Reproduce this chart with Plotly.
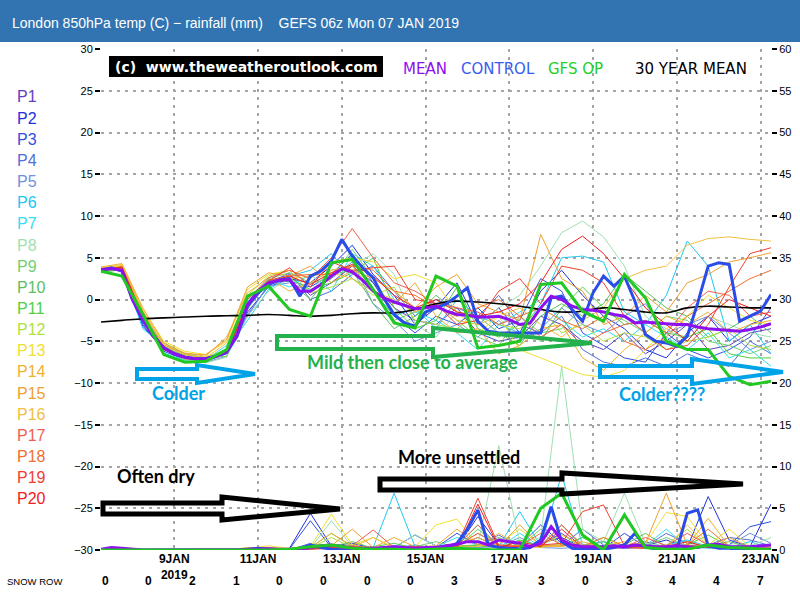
import plotly.graph_objects as go
import pandas as pd

# ---------------- time axes ----------------
t12 = pd.date_range("2019-01-07 06:00", "2019-01-23 06:00", freq="12h")
t6 = pd.date_range("2019-01-07 06:00", "2019-01-23 06:00", freq="6h")

tick_dates = ["2019-01-09", "2019-01-11", "2019-01-13", "2019-01-15",
              "2019-01-17", "2019-01-19", "2019-01-21", "2019-01-23"]
tick_text = ["9JAN<br>2019", "11JAN", "13JAN", "15JAN", "17JAN", "19JAN", "21JAN", "23JAN"]
temp_ticks = [-30, -25, -20, -15, -10, -5, 0, 5, 10, 15, 20, 25, 30]
rain_ticks = [0, 5, 10, 15, 20, 25, 30, 35, 40, 45, 50, 55, 60]

member_names = ["P%d" % i for i in range(1, 21)]
member_colors = ["#6040c0", "#2030e0", "#3050e0", "#5070d8", "#7090e0", "#20c8f0", "#30e0f0",
                 "#a0e0b0", "#70d070", "#60c060", "#50d040", "#b0e040", "#f0e030", "#f0b030",
                 "#f0a030", "#f0c040", "#f06050", "#f07030", "#f04030", "#f02020"]

snow_row = [0, 0, 2, 1, 0, 0, 0, 0, 3, 5, 3, 0, 3, 4, 4, 7]

# ---------------- 850 hPa temperature, members (12-hourly) ----------------
t_p1 = [3.5,3.8,-2.0,-5.5,-6.8,-7.2,-6.0,-0.5,2.2,3.0,0.5,2.0,4.0,2.0,-1.0,-2.5,-3.0,-1.0,-4.0,-5.0,-4.5,-2.0,-3.0,-5.0,-6.0,-4.0,-6.5,-5.0,-3.0,-6.0,-5.5,-4.0,-3.5]
t_p2 = [3.6,3.7,-3.2,-6.0,-7.0,-7.4,-6.5,-1.5,1.5,2.5,2.0,4.0,6.5,3.0,0.5,-3.0,-1.0,2.0,-3.0,-1.0,-4.0,1.0,3.5,0.5,-2.0,-3.5,-6.0,-7.0,-4.0,-2.0,-5.0,-3.0,-2.0]
t_p3 = [3.4,3.6,-3.0,-6.2,-7.2,-7.3,-6.2,-1.0,2.0,2.2,1.5,3.0,5.5,2.0,-2.0,-4.0,-2.0,-3.0,-1.0,-3.5,-2.5,2.5,1.0,-4.0,-5.5,-7.0,-7.5,-4.0,-6.0,-7.0,-6.0,-4.5,-1.0]
t_p4 = [3.3,3.9,-1.5,-5.8,-6.6,-7.0,-6.4,-2.0,1.8,3.2,0.0,1.0,3.0,4.0,1.0,-2.0,0.0,-1.0,-2.0,0.5,-3.0,-4.0,-2.0,-6.0,-7.5,-8.0,-7.0,-8.0,-6.5,-7.5,-8.0,-5.0,-6.5]
t_p5 = [3.5,3.5,-2.8,-6.0,-7.0,-7.5,-6.8,-1.8,1.6,2.0,1.0,2.5,4.5,-0.5,-2.5,-5.0,-4.0,-3.0,-4.5,-2.5,-5.0,-3.5,-1.0,-3.0,-4.0,-2.0,-0.5,-4.0,-3.0,-2.0,-4.0,-6.0,-5.0]
t_p6 = [3.8,3.4,-3.5,-5.5,-6.5,-7.0,-6.0,-2.5,1.2,2.8,3.5,5.5,2.5,1.0,-2.0,-1.0,-3.5,0.0,-2.0,-3.0,-4.0,-0.5,5.0,5.2,4.5,-1.5,-3.0,0.5,7.0,4.0,-5.0,-3.0,-6.5]
t_p7 = [3.7,3.9,-2.6,-6.4,-7.3,-7.2,-5.5,-0.2,2.4,1.5,3.0,1.0,5.5,4.0,0.0,-1.5,-2.5,-4.0,-6.0,-3.0,-1.5,0.0,-2.5,-4.5,-3.5,-5.0,-3.0,-4.5,-6.0,-4.0,-7.0,-6.0,-8.0]
t_p8 = [3.6,3.8,-2.5,-5.8,-7.2,-7.6,-6.9,-2.0,1.0,2.5,1.0,3.5,4.0,5.5,3.0,-3.0,-4.5,-1.5,-3.0,-1.0,0.5,4.0,8.0,9.4,7.5,4.0,-2.0,-3.5,-5.0,-2.0,-3.0,-4.0,-4.5]
t_p9 = [3.2,3.6,-2.3,-5.2,-6.5,-7.0,-6.8,-1.2,2.5,3.2,2.0,2.5,6.0,2.5,-2.5,-1.5,-0.5,-2.5,-4.5,-5.5,-2.0,-4.0,-3.5,-1.0,-1.5,-2.5,-4.0,-2.0,-2.5,-5.0,-5.5,-6.5,-5.5]
t_p10 = [3.4,3.7,-1.8,-5.6,-7.0,-7.1,-6.2,0.0,2.4,2.2,0.0,3.0,3.5,-0.5,-3.5,-2.0,0.5,-1.5,-2.0,-4.0,-5.5,-2.0,-0.5,-2.0,-0.5,3.0,1.0,-1.0,-2.0,-4.5,-3.5,-2.0,-4.0]
t_p11 = [3.6,3.5,-2.4,-6.0,-6.8,-7.3,-6.4,-0.8,2.2,2.6,1.2,2.0,3.2,5.0,-1.0,-3.5,-2.5,1.5,-3.5,-4.5,-3.0,-5.0,-1.0,1.5,-1.0,-3.0,-2.5,-4.0,-4.5,-3.5,-6.5,-7.0,-7.0]
t_p12 = [3.5,3.8,-2.2,-5.6,-6.7,-6.9,-6.0,0.5,2.8,3.5,0.8,1.5,2.5,0.5,1.5,-2.5,-3.0,-3.5,-1.5,-3.0,-3.5,-1.0,-4.0,-3.0,-5.0,-4.0,-4.5,-6.0,-5.0,-4.5,-3.5,-5.5,-6.0]
t_p13 = [3.8,4.2,-1.2,-5.0,-6.2,-6.6,-5.0,1.2,3.0,3.5,2.5,4.5,5.0,4.5,2.5,3.0,2.0,-1.5,-4.0,-2.0,-6.0,-7.0,-8.0,-9.0,-9.3,-8.5,-6.0,-3.5,-2.0,0.5,-1.0,-2.5,-3.0]
t_p14 = [3.9,4.3,-1.0,-5.2,-6.4,-6.8,-4.5,0.8,2.6,1.0,2.0,3.5,4.0,1.0,-0.5,2.0,-2.0,-4.0,-3.5,-6.5,-5.5,-3.5,-3.0,-7.0,-8.5,-6.0,-4.0,-2.0,-3.0,-1.5,-4.0,-3.0,-2.5]
t_p15 = [3.7,4.0,-1.4,-5.4,-6.5,-6.6,-4.8,1.5,3.2,2.8,4.0,2.0,3.5,2.5,1.0,-1.0,1.5,3.0,-0.5,-1.5,-2.5,7.8,2.5,1.0,-3.0,-2.0,0.5,-1.5,2.0,3.0,4.5,5.0,5.6]
t_p16 = [3.6,4.1,-1.6,-5.5,-6.6,-7.0,-5.2,0.2,2.0,2.5,2.8,3.2,2.5,1.0,0.0,-1.5,-0.5,-2.5,-3.0,-2.0,-1.0,-3.0,-4.5,-2.5,-1.0,2.5,3.5,4.0,6.5,7.3,7.5,7.2,7.0]
t_p17 = [3.5,3.9,-2.0,-5.8,-7.0,-7.2,-6.0,0.0,2.6,3.5,2.5,5.0,8.5,5.0,2.0,1.0,-0.5,-1.0,-1.5,-3.0,-2.0,-4.5,-3.0,-5.5,-4.0,-3.0,-2.5,-4.0,-1.0,1.0,0.5,-2.0,-1.5]
t_p18 = [3.6,3.7,-2.3,-6.0,-7.1,-7.2,-6.1,-0.4,2.3,2.8,3.0,3.0,4.0,3.5,1.0,0.5,-1.0,-2.0,-1.0,0.0,-2.0,-1.0,-2.5,-3.5,-2.0,-5.0,-6.0,-4.5,-2.0,-0.5,1.0,2.5,3.5]
t_p19 = [3.5,3.8,-2.5,-6.0,-7.0,-7.1,-6.2,-0.8,2.2,3.8,1.5,4.5,3.5,3.8,4.0,0.0,-0.5,-3.0,-2.5,1.0,2.5,-0.5,4.0,3.5,2.0,-2.0,-4.0,-6.0,-5.5,-3.0,1.5,5.5,6.2]
t_p20 = [3.4,3.9,-2.1,-5.9,-7.0,-7.3,-6.3,-0.6,2.1,2.8,1.8,3.2,4.2,2.8,0.5,-1.0,0.0,-1.5,-2.0,-1.5,-0.5,2.0,6.0,7.6,5.5,2.5,-1.0,-3.0,-5.0,-2.0,0.0,-1.0,-2.0]

# ---------------- rainfall (mm), members (12-hourly) ----------------
r_p1 = [0,0.2,0,0,0,0,0,0,0.1,0,0.5,0.3,0,0.2,0,0.3,0,0.5,1.5,0.4,0.2,0.6,2.0,0.3,0.2,0.4,1.0,0.3,0.2,0.5,0.3,0.2,0.5]
r_p2 = [0,0.1,0,0,0,0,0,0,0,0.2,4.4,0.5,0.8,0.2,0.3,1.8,0.5,0.3,4.0,0.6,0.2,0.8,1.5,0.3,0.4,0.2,0.5,1.2,0.3,6.4,1.2,0.4,5.5]
r_p3 = [0,0,0,0,0,0,0,0,0,0.1,3.5,0.3,0.2,0,0.5,0.4,0.3,2.0,0.6,0.4,0.5,3.0,0.8,0.3,0.2,2.0,0.4,0.3,0.2,0.4,0.6,2.8,3.4]
r_p4 = [0,0,0,0,0,0,0,0,0,0,0.8,0.2,0.3,0.1,0.2,0.6,0.2,0.3,0.5,1.8,0.4,0.6,0.5,2.5,0.6,0.3,0.4,2.0,0.8,0.6,1.5,1.2,0.5]
r_p5 = [0,0,0,0,0,0,0,0,0,0,0.2,0.3,0.6,0.1,0.2,0.1,0.5,0.2,0.3,0.4,1.5,0.3,0.2,0.4,1.0,0.2,0.3,0.5,0.4,0.3,0.6,2.0,0.8]
r_p6 = [0,0,0,0,0,0,0,0,0,0,0.3,0.2,0.1,0.3,6.8,0.4,0.3,0.5,3.0,0.4,4.6,0.5,9.0,0.6,1.0,0.3,0.4,0.6,1.2,0.4,0.3,1.0,0.2]
r_p7 = [0,0,0,0,0,0,0,0,0,0,0.2,0.4,0.5,0.2,0.3,0.2,0.4,1.5,0.6,0.3,2.0,0.4,0.5,1.5,0.3,0.4,0.5,2.5,0.4,0.2,0.3,0.5,0.2]
r_p8 = [0,0,0,0,0,0,0,0,0,0.1,0.2,3.5,0.4,0.2,0.3,1.8,0.5,0.4,0.6,12.5,0.8,1.5,22.0,2.5,1.0,6.8,0.8,0.5,1.0,0.4,0.6,0.5,1.5]
r_p9 = [0,0,0,0,0,0,0,0,0,0,0.3,2.0,0.4,0.2,0.3,0.4,1.0,0.3,2.5,0.5,0.4,2.5,0.6,0.4,1.0,0.3,0.5,1.5,0.4,0.3,0.2,0.4,0.3]
r_p10 = [0,0,0,0,0,0,0,0,0,0,0.2,0.4,1.0,0.2,0.3,0.2,0.4,0.5,0.6,1.5,0.4,0.5,3.0,0.4,0.5,0.6,2.0,0.4,0.3,0.5,1.0,0.3,0.2]
r_p11 = [0,0,0,0,0,0,0,0,0,0,0.1,0.3,0.2,0.4,0.8,0.2,0.3,0.4,0.5,0.3,1.2,0.4,0.5,1.5,0.3,0.4,0.3,0.5,0.6,1.8,0.4,0.3,0.2]
r_p12 = [0,0,0,0,0,0,0,0,0,0,0.2,1.5,0.3,0.2,0.4,0.3,0.2,0.5,2.0,0.6,0.4,0.3,0.8,0.5,1.5,0.4,0.3,0.6,2.5,0.4,0.3,0.5,0.4]
r_p13 = [0,0.3,0,0,0,0,0,0.2,0.5,0.2,0.4,4.3,0.6,1.5,0.3,0.4,3.0,3.7,0.5,0.8,2.5,0.6,1.8,0.5,0.4,0.6,0.8,4.5,4.0,0.6,2.5,0.4,0.3]
r_p14 = [0,0.2,0,0,0,0,0,0.3,0.2,0.1,0.3,2.0,0.5,0.3,1.5,0.4,0.3,0.5,1.5,0.4,0.6,0.5,0.4,1.0,0.3,0.5,0.4,0.6,0.5,3.8,0.4,0.3,0.2]
r_p15 = [0,0.1,0,0,0,0,0,0.2,0.3,0.1,0.4,0.5,2.5,0.3,0.2,0.4,0.5,2.5,0.6,0.4,3.0,0.5,0.6,0.4,0.3,0.5,0.8,6.8,0.6,0.4,1.5,0.3,0.2]
r_p16 = [0,0,0,0,0,0,0,0.1,0.3,0.1,0.2,0.4,0.3,1.5,0.2,0.4,0.3,0.5,0.4,2.0,0.5,0.3,0.6,0.4,0.5,1.0,0.4,0.3,3.0,0.5,0.4,0.3,0.2]
r_p17 = [0,0,0,0,0,0,0,0,0.2,0.1,0.3,0.4,0.5,2.4,0.3,0.2,0.4,0.5,2.0,0.6,0.4,0.5,3.0,0.6,0.4,0.3,1.5,0.5,2.0,0.6,0.4,0.3,0.2]
r_p18 = [0,0,0,0,0,0,0,0,0.1,0,0.2,0.5,0.4,0.3,0.2,0.4,0.3,0.5,3.0,0.4,0.5,2.0,0.6,0.4,1.5,0.5,0.3,0.4,0.6,2.5,0.4,0.3,0.2]
r_p19 = [0,0,0,0,0,0,0,0,0,0,0.2,0.3,0.4,0.2,0.3,0.4,0.2,0.5,6.2,0.5,0.4,0.6,0.8,4.6,5.4,0.5,0.4,0.3,0.5,0.4,0.3,0.2,0.1]
r_p20 = [0,0,0,0,0,0,0,0,0,0,0.1,0.2,0.3,0.2,0.1,0.2,0.3,0.2,5.5,0.3,1.0,0.4,2.5,0.3,0.2,0.3,0.2,0.4,1.0,0.3,0.2,0.1,0]

# ---------------- ensemble mean & control (6-hourly) ----------------
mean_temp = [3.6,3.7,3.5,0.0,-2.4,-4.4,-5.8,-6.5,-6.9,-7.1,
             -7.1,-6.8,-6.3,-4.2,-0.6,1.0,2.0,2.3,2.4,1.0,
             1.0,1.8,2.8,3.7,3.3,2.3,1.0,0.2,-0.3,-0.7,
             -1.1,-1.0,-0.8,-1.4,-1.8,-1.9,-2.1,-2.1,-2.0,-2.4,
             -3.0,-2.8,-1.0,0.4,0.0,-0.8,-1.2,-1.3,-1.5,-1.8,
             -2.0,-2.8,-2.7,-2.8,-2.9,-3.0,-3.0,-3.3,-3.5,-3.6,
             -3.7,-3.8,-3.6,-3.3,-2.9]
control_temp = [3.5,3.8,3.4,0.0,-2.5,-4.3,-5.8,-6.5,-6.9,-7.1,
                -7.1,-6.8,-6.3,-4.4,-0.8,0.8,1.8,2.3,2.5,0.4,
                2.8,3.4,4.6,7.2,5.2,3.8,2.6,0.2,-1.8,-2.8,
                -3.2,-1.5,-1.0,-0.5,0.4,1.4,-2.6,-3.8,-4.0,-4.0,
                -4.0,-4.0,-4.0,0.2,0.4,-1.2,-2.6,0.8,2.8,1.6,
                2.8,-0.2,-4.2,-5.0,-5.2,-5.6,-4.4,-0.4,4.0,4.4,
                4.2,-2.6,-2.0,-1.4,0.6]
mean_rain = [0.1,0.3,0.2,0.1,0.0,0.0,0.0,0.0,0.0,0.0,
             0.0,0.0,0.0,0.0,0.05,0.1,0.15,0.1,0.1,0.1,
             0.3,0.5,0.6,0.4,0.2,0.2,0.2,0.3,0.4,0.3,
             0.2,0.3,0.3,0.5,0.7,1.0,1.0,0.6,1.2,1.0,
             0.8,0.4,0.8,2.8,1.2,0.6,0.4,0.4,0.4,0.5,
             0.4,0.6,0.5,0.4,0.4,0.5,0.4,0.3,0.6,0.7,
             0.4,0.4,0.4,0.5,0.6]
control_rain = [0.0,0.2,0.1,0.0,0.0,0.0,0.0,0.0,0.0,0.0,
                0.0,0.0,0.0,0.0,0.1,0.2,0.1,0.0,0.0,0.2,
                0.6,0.3,0.1,0.0,0.0,0.0,0.1,0.2,0.1,0.0,
                0.0,0.1,0.2,0.3,0.8,2.5,4.8,0.6,0.3,0.2,
                0.1,0.3,1.2,5.2,1.0,0.2,0.1,0.1,0.1,0.3,
                0.6,2.0,0.4,0.1,0.0,0.0,4.4,4.8,0.5,0.2,
                0.2,0.1,0.1,0.1,0.1]

# ---------------- GFS operational & 30-year mean (12-hourly) ----------------
gfs_temp = [3.4,2.8,-1.8,-6.6,-7.5,-7.4,-6.0,0.4,1.6,-1.2,
            -2.0,4.4,4.8,1.2,-2.8,-3.4,2.8,1.6,-5.8,-5.5,
            -5.0,1.8,2.0,-1.4,-2.6,3.0,0.2,-5.0,-6.0,-6.0,
            -9.2,-10.2,-9.8]
gfs_rain = [0,0,0,0,0,0,0,0,0,0.1,
            0.4,0.6,0.2,0.1,0.1,0.0,0.1,0.2,0.1,0.0,
            0.0,5.0,6.8,1.8,0.0,4.2,0.3,0.1,0.1,0.6,
            0.3,0.2,0.0]
clim_temp = [-2.7,-2.5,-2.3,-2.2,-2.1,-2.0,-1.95,-1.9,-1.8,-1.9,
             -2.0,-1.9,-1.7,-1.6,-1.6,-1.2,-0.5,-0.2,-0.3,-0.5,
             -0.8,-1.2,-1.5,-1.4,-1.0,-1.2,-1.5,-1.6,-1.0,-0.8,
             -0.9,-1.0,-1.0]

member_temps = [t_p1, t_p2, t_p3, t_p4, t_p5, t_p6, t_p7, t_p8, t_p9, t_p10,
                t_p11, t_p12, t_p13, t_p14, t_p15, t_p16, t_p17, t_p18, t_p19, t_p20]
member_rains = [r_p1, r_p2, r_p3, r_p4, r_p5, r_p6, r_p7, r_p8, r_p9, r_p10,
                r_p11, r_p12, r_p13, r_p14, r_p15, r_p16, r_p17, r_p18, r_p19, r_p20]

# ---------------- colours ----------------
C_MEAN = "#8c10f0"
C_CTRL = "#2a4ce8"
C_OP = "#22c822"
C_PAINT_BLUE = "#00a2e8"
C_PAINT_GREEN = "#22b14c"

fig = go.Figure()

for name, col, tv, rv in zip(member_names, member_colors, member_temps, member_rains):
    fig.add_trace(go.Scatter(x=t12, y=rv, mode="lines", yaxis="y2",
                             line=dict(color=col, width=1), name=name, showlegend=False))
    fig.add_trace(go.Scatter(x=t12, y=tv, mode="lines",
                             line=dict(color=col, width=1), name=name, showlegend=False))

fig.add_trace(go.Scatter(x=t12, y=clim_temp, mode="lines", line=dict(color="black", width=1.6),
                         line_shape="spline", showlegend=False))
fig.add_trace(go.Scatter(x=t6, y=control_rain, mode="lines", yaxis="y2",
                         line=dict(color=C_CTRL, width=3), showlegend=False))
fig.add_trace(go.Scatter(x=t6, y=control_temp, mode="lines",
                         line=dict(color=C_CTRL, width=3), showlegend=False))
fig.add_trace(go.Scatter(x=t6, y=mean_rain, mode="lines", yaxis="y2",
                         line=dict(color=C_MEAN, width=3), showlegend=False))
fig.add_trace(go.Scatter(x=t6, y=mean_temp, mode="lines",
                         line=dict(color=C_MEAN, width=3), showlegend=False))
fig.add_trace(go.Scatter(x=t12, y=gfs_rain, mode="lines", yaxis="y2",
                         line=dict(color=C_OP, width=3), showlegend=False))
fig.add_trace(go.Scatter(x=t12, y=gfs_temp, mode="lines",
                         line=dict(color=C_OP, width=3), showlegend=False))

# ---------------- layout geometry (pixels -> paper) ----------------
L, R, T, B = 101, 29, 49, 50
PW, PH = 800 - L - R, 600 - T - B


def PX(x):
    return (x - L) / PW


def PY(y):
    return (600 - B - y) / PH


def path(pts):
    return "M " + " L ".join("%.5f,%.5f" % (PX(a), PY(b)) for a, b in pts) + " Z"


grid_col = "#a5a5a5"
tick_font = dict(family="Liberation Sans", size=11, color="black")

fig.update_layout(
    width=800, height=600,
    margin=dict(l=L, r=R, t=T, b=B, autoexpand=False),
    paper_bgcolor="white", plot_bgcolor="white",
    showlegend=False,
    xaxis=dict(type="date", range=["2019-01-07 06:00", "2019-01-23 06:00"],
               tickvals=tick_dates, ticktext=tick_text, automargin=False,
               showgrid=True, gridcolor=grid_col, griddash="3px,5px", gridwidth=1.5,
               ticks="",
               tickfont=dict(family="Liberation Sans", size=12, color="black", weight="bold"),
               showline=False, zeroline=False),
    yaxis=dict(range=[-30, 30], tickvals=temp_ticks, automargin=False,
               showgrid=True, gridcolor=grid_col, griddash="3px,5px", gridwidth=1.5,
               ticks="outside", ticklen=5, tickwidth=1.5, tickcolor="black",
               tickfont=tick_font, showline=False, zeroline=False),
    yaxis2=dict(range=[0, 60], tickvals=rain_ticks, overlaying="y", side="right", automargin=False,
                showgrid=False, ticks="outside", ticklen=5, tickwidth=1.5, tickcolor="black",
                tickfont=tick_font, showline=False, zeroline=False),
)

shapes = []
# title band
shapes.append(dict(type="rect", xref="paper", yref="paper", x0=PX(0), x1=PX(800), y0=PY(42), y1=PY(0),
                   fillcolor="#3174b1", line=dict(width=0), layer="above"))
# copyright box
shapes.append(dict(type="rect", xref="paper", yref="paper", x0=PX(109), x1=PX(383), y0=PY(77), y1=PY(56),
                   fillcolor="black", line=dict(width=0), layer="above"))
# hand-drawn hollow arrows
arrows = [
    ([(137, 369), (197, 369), (197, 365), (255, 374), (197, 383), (197, 379), (137, 379)], C_PAINT_BLUE, 4),
    ([(277, 336), (433, 336), (433, 328), (592, 343), (433, 357), (433, 349), (277, 349)], C_PAINT_GREEN, 4),
    ([(600, 366), (692, 366), (692, 359), (783, 372), (692, 384), (692, 377), (600, 377)], C_PAINT_BLUE, 4),
    ([(103, 503), (222, 503), (222, 497), (340, 509), (222, 520), (222, 514), (103, 514)], "black", 5),
    ([(380, 479), (562, 479), (562, 473), (743, 484), (562, 494), (562, 490), (380, 490)], "black", 5),
]
for pts, col, w in arrows:
    shapes.append(dict(type="path", xref="paper", yref="paper", path=path(pts),
                       line=dict(color=col, width=w), fillcolor="rgba(0,0,0,0)", layer="above"))
fig.update_layout(shapes=shapes)

ann = []
# title
ann.append(dict(text="London 850hPa temp (C) \u2212 rainfall (mm)\u00a0\u00a0\u00a0 GEFS 06z Mon 07 JAN 2019",
                x=PX(10), y=PY(23), xref="paper", yref="paper", xanchor="left", yanchor="middle",
                showarrow=False, font=dict(family="Liberation Sans", size=14, color="white")))
# copyright
ann.append(dict(text="<b>(c)\u00a0 www.theweatheroutlook.com</b>", x=PX(246), y=PY(67), xref="paper", yref="paper",
                xanchor="center", yanchor="middle", showarrow=False,
                font=dict(family="DejaVu Sans", size=14, color="white")))
# series key
for txt, xx, col in [("MEAN", 401, C_MEAN), ("CONTROL", 459, "#3a5cf0"), ("GFS OP", 546, "#22d022"),
                     ("30 YEAR MEAN", 633, "black")]:
    ann.append(dict(text=txt, x=PX(xx), y=PY(69), xref="paper", yref="paper", xanchor="left",
                    yanchor="middle", showarrow=False,
                    font=dict(family="DejaVu Sans", size=15, color=col)))
# member legend
for i, (name, col) in enumerate(zip(member_names, member_colors)):
    ann.append(dict(text=name, x=PX(15), y=PY(97 + i * 21.15), xref="paper", yref="paper",
                    xanchor="left", yanchor="middle", showarrow=False,
                    font=dict(family="Liberation Sans", size=16, color=col)))
# arrow captions
for txt, xx, yy, col in [("Colder", 178, 393, C_PAINT_BLUE),
                         ("Mild then close to average", 412, 362, C_PAINT_GREEN),
                         ("Colder????", 662, 394, C_PAINT_BLUE),
                         ("Often dry", 156, 476, "black"),
                         ("More unsettled", 459, 457, "black")]:
    ann.append(dict(text="<b>%s</b>" % txt, x=PX(xx), y=PY(yy), xref="paper", yref="paper",
                    xanchor="center", yanchor="middle", showarrow=False,
                    font=dict(family="Lato", size=18, color=col)))
# snow row
ann.append(dict(text="SNOW ROW", x=PX(5), y=PY(581), xref="paper", yref="paper", xanchor="left",
                yanchor="middle", showarrow=False,
                font=dict(family="Liberation Sans", size=9.5, color="black")))
for i, v in enumerate(snow_row):
    ann.append(dict(text="<b>%d</b>" % v, x=PX(105 + i * 43.67), y=PY(581), xref="paper", yref="paper",
                    xanchor="center", yanchor="middle", showarrow=False,
                    font=dict(family="Liberation Sans", size=12, color="black")))
fig.update_layout(annotations=ann)

fig.write_html("out.html")
